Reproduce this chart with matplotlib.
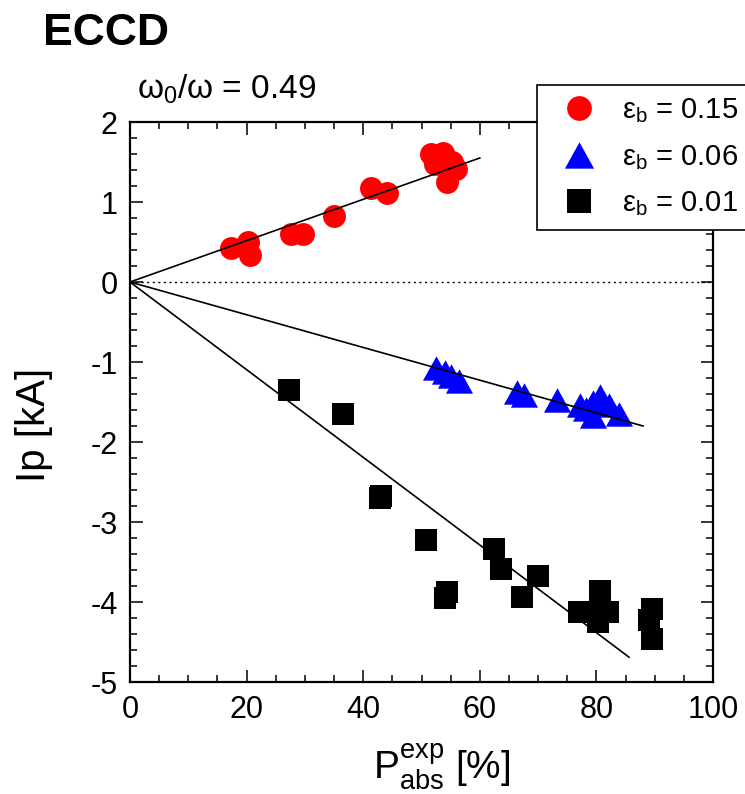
import matplotlib
matplotlib.use('Agg')
import matplotlib.pyplot as plt
from matplotlib.ticker import MultipleLocator

plt.rcParams['font.family'] = ['Liberation Sans', 'DejaVu Sans']
plt.rcParams['mathtext.default'] = 'regular'
plt.rcParams['axes.unicode_minus'] = False

# data
red_x = [17.3, 20.3, 20.6, 27.6, 29.7, 35.0, 41.4, 44.1, 51.7, 53.7, 52.3, 55.2, 56.0, 54.3]
red_y = [0.42, 0.50, 0.34, 0.60, 0.60, 0.83, 1.18, 1.11, 1.60, 1.61, 1.48, 1.50, 1.41, 1.25]

blue_x = [52.5, 54.0, 55.0, 56.5, 66.3, 67.5, 73.2, 77.2, 78.3, 79.4, 79.4, 80.6, 82.2, 83.8]
blue_y = [-1.08, -1.12, -1.18, -1.24, -1.38, -1.41, -1.48, -1.54, -1.59, -1.50, -1.68, -1.43, -1.54, -1.65]

black_x = [27.2, 36.5, 42.9, 43.1, 50.8, 54.3, 54.0, 62.4, 63.7, 70.0, 67.3, 77.0, 80.6, 80.6, 82.0, 80.3, 89.6, 89.0, 89.6]
black_y = [-1.35, -1.65, -2.70, -2.68, -3.23, -3.87, -3.95, -3.34, -3.59, -3.68, -3.94, -4.13, -3.86, -4.13, -4.13, -4.25, -4.09, -4.23, -4.46]

# linear fits through the origin: end points
fit_red = ([0, 60.0], [0, 1.55])
fit_blue = ([0, 88.0], [0, -1.80])
fit_black = ([0, 85.6], [0, -4.69])

labels = [r'$\varepsilon_b$ = 0.15', r'$\varepsilon_b$ = 0.06', r'$\varepsilon_b$ = 0.01']

W, H = 745, 794
fig = plt.figure(figsize=(W / 100, H / 100), dpi=100)
ax = fig.add_axes([130 / W, 1 - 682 / H, (713 - 130) / W, (682 - 122) / H])

tri = [(0, 0.9), (-1, -0.9), (1, -0.9)]
h1, = ax.plot(red_x, red_y, 'o', color='red', markersize=16.5, markeredgewidth=0, zorder=2)
h2, = ax.plot(blue_x, blue_y, linestyle='none', marker=tri, color='blue', markersize=19.5, markeredgewidth=0, zorder=2)
h3, = ax.plot(black_x, black_y, 's', color='black', markersize=15.5, markeredgewidth=0, zorder=2)

for fx, fy in (fit_red, fit_blue, fit_black):
    ax.plot(fx, fy, color='black', lw=1.2, zorder=3)
ax.axhline(0, color='black', lw=1.0, linestyle=(0, (1.5, 2.5)), zorder=1)

ax.set_xlim(0, 100)
ax.set_ylim(-5, 2)
ax.xaxis.set_major_locator(MultipleLocator(20))
ax.xaxis.set_minor_locator(MultipleLocator(5))
ax.yaxis.set_major_locator(MultipleLocator(1))
ax.yaxis.set_minor_locator(MultipleLocator(0.2))
ax.tick_params(which='both', direction='in', top=True, right=True, width=1.1, labelsize=22)
ax.tick_params(which='major', length=9, pad=9)
ax.tick_params(which='minor', length=5)
for s in ax.spines.values():
    s.set_linewidth(1.6)

ax.set_xlabel(r'$P_{abs}^{exp}$ [%]', fontsize=28)
ax.xaxis.set_label_coords((442 - 130) / 583, (682 - 743) / 560)
ax.set_ylabel('Ip [kA]', fontsize=29)
ax.yaxis.set_label_coords((53 - 130) / 583, (682 - 425) / 560)

fig.text(43 / W, 1 - 45 / H, 'ECCD', fontsize=32, fontweight='bold', va='baseline')
fig.text(137 / W, 1 - 99 / H, r'$\omega_0$/$\omega$ = 0.49', fontsize=24, va='baseline')

# legend box runs off the right edge of the figure, as in the original
leg = ax.legend([h1, h2, h3], labels, loc='upper left',
                bbox_to_anchor=(537 / W, 1 - 230 / H, 0.4, 145 / H), bbox_transform=fig.transFigure,
                mode='expand', borderaxespad=0, fontsize=21, frameon=True, fancybox=False,
                edgecolor='black', framealpha=1, handlelength=2.1, handletextpad=0.4,
                labelspacing=0.6, borderpad=0.4, numpoints=1, markerscale=1.08)
leg.get_frame().set_linewidth(1.2)
leg.set_clip_on(False)

fig.savefig('out.png', dpi=100)
